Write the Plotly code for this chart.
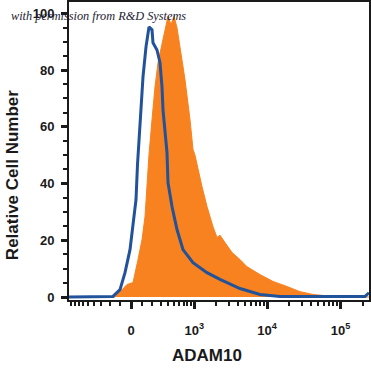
import numpy as np
import plotly.graph_objects as go

# ---- data (x in display units of the biexponential axis, y = % of max) ----
blue_x = [-62, -21, -18, -11, -6, -1, 2, 5, 6.5, 9, 12, 15, 18, 21, 22, 26, 29, 31, 32, 36,
          37, 41, 46, 52, 62, 76, 89, 109, 129, 149, 234, 238]
blue_y = [0, 0, 0.2, 2.6, 8.6, 16.7, 24.8, 34.3, 46.7, 62.5, 77.6, 88.2, 95.2, 94.2, 89.6,
          87.1, 82.6, 74.1, 66.0, 50.9, 40.3, 31.9, 23.8, 16.7, 12.1, 8.6, 6.2, 3.0, 0.9,
          0.2, 0.2, 1.5]

orange_x = [-62, -16, -4, 2, 7, 11, 14, 16, 18, 21, 24, 27, 32, 36, 37, 40, 43, 46, 49, 54,
            59, 62, 64, 67, 71, 76, 82, 86, 89, 94, 101, 109, 116, 129, 142, 156, 169, 182,
            202, 219, 238]
orange_y = [0, 0, 4.4, 5.1, 13.2, 20.2, 28.3, 40.3, 50.2, 62.5, 74.1, 82.6, 90.7, 96.7, 99.0,
            96.0, 99.0, 94.9, 88.2, 76.6, 62.5, 52.0, 50.0, 44.9, 38.9, 31.9, 24.8, 21.0, 21.8,
            19.2, 15.7, 13.2, 10.7, 7.9, 5.5, 3.7, 1.9, 0.9, 0.2, 0, 0]

major_tick_values = [0, 1e3, 1e4, 1e5]
major_tick_labels = ["0", "10<sup>3</sup>", "10<sup>4</sup>", "10<sup>5</sup>"]
y_major = [0, 20, 40, 60, 80, 100]

# biexponential-like display transform
A, C = 31.87, 280.0
def T(v):
    return A * np.arcsinh(np.asarray(v, dtype=float) / C)

minor_vals = []
for dec in [100, 1000, 10000, 100000]:
    for m in range(1, 10):
        minor_vals.append(m * dec)
minor_vals = [v for v in minor_vals if T(v) < 238] + [-v for v in minor_vals if T(-v) > -62]

BLUE = "#22529a"
ORANGE = "#f7821f"
FONT = "Liberation Sans"

fig = go.Figure()
fig.add_trace(go.Scatter(x=orange_x, y=orange_y, mode="lines", fill="tozeroy",
                         fillcolor=ORANGE, line=dict(color=ORANGE, width=1),
                         hoverinfo="skip", showlegend=False))
fig.add_trace(go.Scatter(x=blue_x, y=blue_y, mode="lines",
                         line=dict(color=BLUE, width=3),
                         hoverinfo="skip", showlegend=False))

fig.update_layout(
    template="none",
    width=371, height=372,
    margin=dict(l=69, r=2, t=2, b=72),
    paper_bgcolor="white", plot_bgcolor="white",
    xaxis=dict(range=[-62, 238], showgrid=False, zeroline=False, automargin=False,
               showline=True, linecolor="#1a1a1a", linewidth=2, mirror=True,
               tickmode="array", tickvals=list(T(major_tick_values)),
               ticktext=major_tick_labels, ticks="outside", ticklen=7, tickwidth=3,
               tickcolor="#1a1a1a", ticklabelstandoff=10,
               tickfont=dict(family=FONT, size=13, color="#1a1a1a", weight="bold"),
               minor=dict(tickmode="array", tickvals=list(T(minor_vals)), ticks="outside",
                          ticklen=4, tickwidth=1.5, tickcolor="#1a1a1a", showgrid=False)),
    yaxis=dict(range=[-1.05, 104], showgrid=False, zeroline=False, automargin=False,
               showline=True, linecolor="#1a1a1a", linewidth=2, mirror=True,
               tickmode="array", tickvals=y_major, ticks="outside", ticklen=6, tickwidth=3,
               tickcolor="#1a1a1a", ticklabelstandoff=4,
               tickfont=dict(family=FONT, size=13, color="#1a1a1a", weight="bold"),
               minor=dict(dtick=5, tick0=0, ticks="outside", ticklen=4, tickwidth=1.5,
                          tickcolor="#1a1a1a", showgrid=False)),
    annotations=[
        dict(text="Relative Cell Number", xref="paper", yref="paper", x=-0.19, y=0.419,
             textangle=-90, showarrow=False, xanchor="center", yanchor="middle",
             font=dict(family=FONT, size=17, color="#1a1a1a", weight="bold")),
        dict(text="ADAM10", xref="paper", yref="paper", x=0.46, y=-0.185,
             showarrow=False, xanchor="center", yanchor="middle",
             font=dict(family=FONT, size=17, color="#1a1a1a", weight="bold")),
        dict(text="<i>with permission from R&amp;D Systems</i>", xref="paper", yref="paper",
             x=-0.2, y=0.953, showarrow=False, xanchor="left", yanchor="middle",
             font=dict(family="Liberation Serif", size=12.3, color="#1b1b33")),
    ],
)

fig.write_html("out.html", config={"displayModeBar": False},
               post_script="document.body.style.margin='0px';")
